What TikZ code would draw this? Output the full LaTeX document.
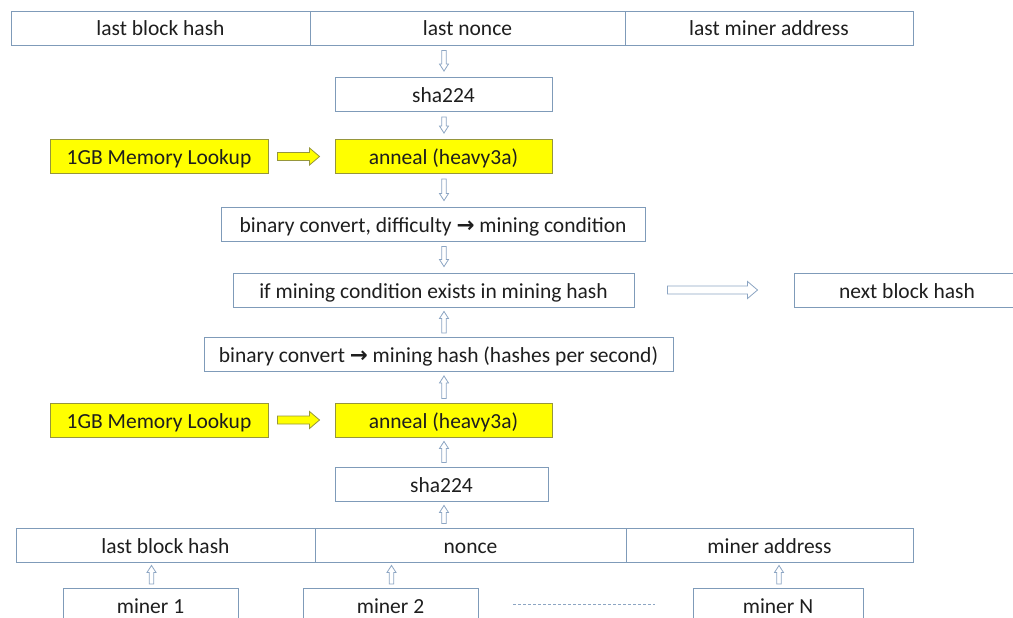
\documentclass[tikz,border=0pt]{standalone}
\usepackage{fontspec}
\setmainfont{Carlito}
\newfontfamily\arrowfont{DejaVu Sans}
\usetikzlibrary{calc,positioning}
\definecolor{boxline}{RGB}{127,155,185}
\definecolor{flowline}{RGB}{140,165,195}
\definecolor{hotfill}{RGB}{255,255,0}
\definecolor{hotline}{RGB}{150,150,60}
\definecolor{inkgray}{RGB}{30,30,30}
\tikzset{
  box/.style={draw=boxline, line width=0.9pt, fill=white, minimum height=34pt,
    inner sep=0pt, text height=18pt, text depth=2pt, text=inkgray,
    font=\fontsize{21.5}{25}\selectfont},
  hotbox/.style={box, draw=hotline, fill=hotfill},
  flowdown/.style={draw=flowline, line width=0.8pt, fill=white,
    to path={let \p1=(\tikztostart), \p2=(\tikztotarget) in
      (\x1-2.3pt,\y1) -- (\x1-2.3pt,\y2+7pt) -- (\x1-4.5pt,\y2+7pt) -- (\x1,\y2)
      -- (\x1+4.5pt,\y2+7pt) -- (\x1+2.3pt,\y2+7pt) -- (\x1+2.3pt,\y1) -- cycle}},
  flowup/.style={draw=flowline, line width=0.8pt, fill=white,
    to path={let \p1=(\tikztostart), \p2=(\tikztotarget) in
      (\x1-2.3pt,\y1) -- (\x1-2.3pt,\y2-7pt) -- (\x1-4.5pt,\y2-7pt) -- (\x1,\y2)
      -- (\x1+4.5pt,\y2-7pt) -- (\x1+2.3pt,\y2-7pt) -- (\x1+2.3pt,\y1) -- cycle}},
  flowright/.style={draw=flowline, line width=0.8pt, fill=white,
    to path={let \p1=(\tikztostart), \p2=(\tikztotarget) in
      (\x1,\y1-4pt) -- (\x2-10pt,\y1-4pt) -- (\x2-10pt,\y1-8.5pt) -- (\x2,\y1)
      -- (\x2-10pt,\y1+8.5pt) -- (\x2-10pt,\y1+4pt) -- (\x1,\y1+4pt) -- cycle}},
  feed/.style={flowright, draw=hotline, fill=hotfill},
}
\begin{document}
\begin{tikzpicture}[x=1pt,y=-1pt]
\useasboundingbox (0,0) rectangle (1013,618);
\coordinate (spine) at (444,0); % x of the middle column of arrows
% last block
\node[box, minimum width=299pt] (top1) at (160.5,28) {last block hash};
\node[box, minimum width=315pt] (top2) at (467.5,28) {last nonce};
\node[box, minimum width=288pt] (top3) at (769,28) {last miner address};
\node[box, minimum width=217pt] (sha1) at (443.5,94.5) {sha224};
\node[hotbox, minimum width=218pt] (mem1) at (159,156.5) {1GB Memory Lookup};
\node[hotbox, minimum width=217pt] (ann1) at (443.5,156.5) {anneal (heavy3a)};
\node[box, minimum width=424pt] (bin1) at (433,224) {binary convert, difficulty {\arrowfont\bfseries →} mining condition};
% check
\node[box, minimum width=401pt] (cond) at (433.5,290) {if mining condition exists in mining hash};
\node[box, minimum width=226pt] (next) at (907,290) {next block hash};
% miner side
\node[box, minimum width=469pt] (bin2) at (438.5,354.5) {binary convert {\arrowfont\bfseries →} mining hash (hashes per second)};
\node[hotbox, minimum width=218pt] (mem2) at (159,420) {1GB Memory Lookup};
\node[hotbox, minimum width=217pt] (ann2) at (443.5,420) {anneal (heavy3a)};
\node[box, minimum width=213pt] (sha2) at (441.5,484) {sha224};
\node[box, minimum width=299pt] (bot1) at (165.5,545) {last block hash};
\node[box, minimum width=311pt] (bot2) at (470.5,545) {nonce};
\node[box, minimum width=287pt] (bot3) at (769.5,545) {miner address};
\node[box, minimum width=175pt] (miner1) at (150.5,605.5) {miner 1};
\node[box, minimum width=175pt] (miner2) at (390.5,605.5) {miner 2};
\node[box, minimum width=170pt] (minerN) at (778,605.5) {miner N};
\draw[flowline, line width=0.7pt, dash pattern=on 3pt off 2pt]
  ($(miner2.east)+(35,-1.5)$) -- ($(minerN.west)+(-38,-1.5)$);
% arrows down
\foreach \a/\b in {top2/sha1, sha1/ann1, ann1/bin1, bin1/cond}
\draw[flowdown] ($(spine |- \a.south)+(0,5)$) to ($(spine |- \b.north)+(0,-6)$);
% arrows up
\foreach \a/\b in {bot2/sha2, sha2/ann2, ann2/bin2, bin2/cond}
\draw[flowup] ($(spine |- \a.north)+(0,-4)$) to ($(spine |- \b.south)+(0,4)$);
\foreach \m/\c in {miner1/bot1, miner2/bot2, minerN/bot3}
\draw[flowup] ($(\m.north)+(1,-4)$) to ($(\m.north |- \c.south)+(1,3)$);
% sideways
\draw[feed] ($(mem1.east)+(9,0)$) to ($(ann1.west)+(-15,0)$);
\draw[feed] ($(mem2.east)+(9,0)$) to ($(ann2.west)+(-15,0)$);
\draw[flowright] ($(cond.east)+(33,0)$) to ($(next.west)+(-36,0)$);
\end{tikzpicture}
\end{document}
